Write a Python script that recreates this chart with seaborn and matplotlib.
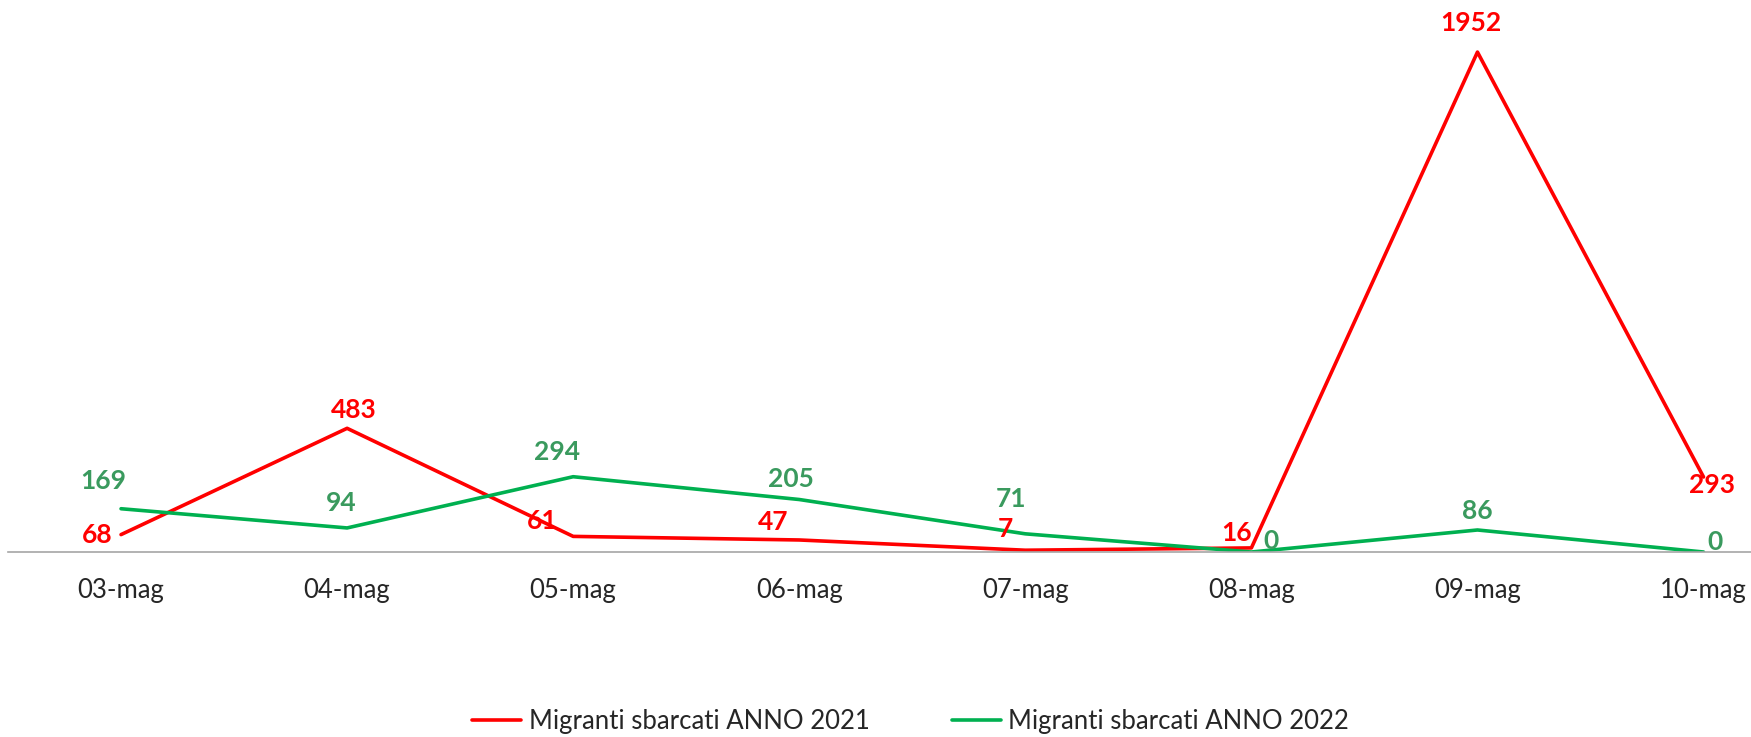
import pandas as pd
import numpy as np
import matplotlib.pyplot as plt
import seaborn as sns

# dati
giorni = ['03-mag', '04-mag', '05-mag', '06-mag', '07-mag', '08-mag', '09-mag', '10-mag']
sbarcati_2021 = [68, 483, 61, 47, 7, 16, 1952, 293]
sbarcati_2022 = [169, 94, 294, 205, 71, 0, 86, 0]
serie = ['Migranti sbarcati ANNO 2021', 'Migranti sbarcati ANNO 2022']

df = pd.DataFrame({
    'giorno': giorni * 2,
    'pos': list(range(len(giorni))) * 2,
    'valore': sbarcati_2021 + sbarcati_2022,
    'serie': [serie[0]] * len(giorni) + [serie[1]] * len(giorni),
})

sns.set_style("white")
plt.rcParams['font.family'] = ['Lato', 'DejaVu Sans']

fig = plt.figure(figsize=(17.51, 7.37), dpi=100)
ax = fig.add_axes([8 / 1751, 0.251, 1 - 8 / 1751, 0.695])

colori = {serie[0]: '#FF0000', serie[1]: '#00B050'}
sns.lineplot(data=df, x='pos', y='valore', hue='serie', palette=colori,
             linewidth=2.6, ax=ax, legend=True)

# etichette dati (offset in punti)
off_2021 = [(-17, 0), (5, 13), (-22, 11), (-19, 13), (-14, 15), (-11, 11), (-5, 21), (6, -6)]
off_2022 = [(-13, 20), (-4, 18), (-12, 18), (-6, 15), (-10, 25), (14, 8), (0, 14), (8, 7)]
for i, (v, o) in enumerate(zip(sbarcati_2021, off_2021)):
    ax.annotate(str(v), (i, v), xytext=o, textcoords='offset points', ha='center', va='center',
                fontsize=19, fontweight='bold', color='#FF0000')
for i, (v, o) in enumerate(zip(sbarcati_2022, off_2022)):
    ax.annotate(str(v), (i, v), xytext=o, textcoords='offset points', ha='center', va='center',
                fontsize=19, fontweight='bold', color='#3A9A5E')

ax.set_xlim(-0.5, 7.21)
ax.set_ylim(0, 2000)
ax.set_xticks(range(len(giorni)))
ax.set_xticklabels(giorni, fontsize=18.5)
ax.tick_params(axis='x', length=0, pad=19)
ax.set_yticks([])
ax.set_xlabel('')
ax.set_ylabel('')
for s in ['top', 'right', 'left']:
    ax.spines[s].set_visible(False)
ax.spines['bottom'].set_color('#A6A6A6')
ax.spines['bottom'].set_linewidth(1.2)

ax.legend(loc='center', bbox_to_anchor=(0.52, 0.021), bbox_transform=fig.transFigure,
          ncol=2, frameon=False, fontsize=18.5, handlelength=1.9, handletextpad=0.3,
          columnspacing=3.2)

plt.savefig('out.png', dpi=100)
